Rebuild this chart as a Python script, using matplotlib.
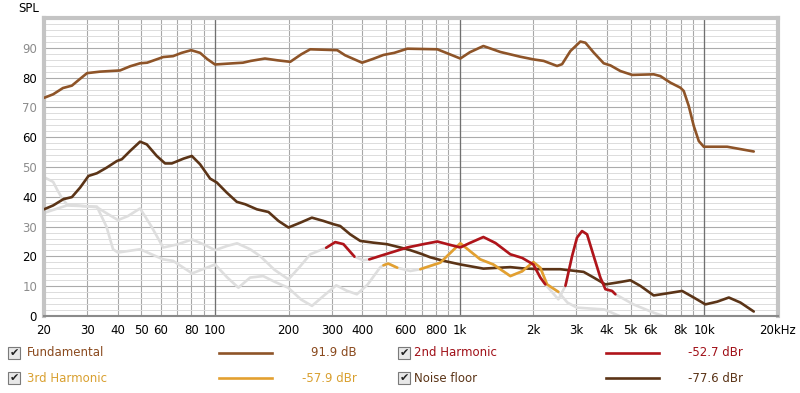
import numpy as np
import matplotlib
matplotlib.use("Agg")
import matplotlib.pyplot as plt
from matplotlib.lines import Line2D
from matplotlib.patches import Rectangle

plt.rcParams['font.family'] = ['DejaVu Sans']

# ---------------- data ----------------
fund_f = [20, 21.8, 23.9, 26, 28, 30, 33.9, 40.9, 45, 49.4, 52.8, 61.4, 67.4, 73, 79.9, 86.9,
          93, 100, 118.6, 130, 140, 160, 180, 203, 225, 245, 316, 340, 399, 440, 488, 540,
          611, 810, 900, 1006, 1100, 1250, 1466, 1770, 2005, 2204, 2501, 2621, 2834, 3114,
          3265, 3530, 3878, 4131, 4538, 5068, 6209, 6612, 7267, 7985, 8237, 8633, 9050, 9491,
          9945, 12400, 13620, 15920]
fund_db = [73.2, 74.4, 76.5, 77.3, 79.5, 81.5, 82.0, 82.4, 83.8, 84.8, 85.0, 86.9, 87.2, 88.3, 89.2, 88.3,
           86.2, 84.4, 84.8, 85.0, 85.6, 86.4, 85.8, 85.3, 87.8, 89.5, 89.2, 87.5, 85.0, 86.2, 87.6, 88.3,
           89.7, 89.5, 88.0, 86.4, 88.5, 90.6, 88.6, 87.0, 86.1, 85.6, 83.9, 84.5, 88.9, 92.1,
           91.7, 88.4, 84.8, 84.1, 82.2, 80.9, 81.1, 80.5, 78.3, 76.6, 75.5, 70.5, 63.8, 58.7,
           56.8, 56.8, 56.2, 55.2]

noise_f = [20, 21.8, 24.0, 26.0, 28.1, 30.4, 32.9, 36.1, 39.7, 41.6, 45.0, 49.4, 52.6, 57.8, 62.5,
           66.6, 74.3, 80.4, 86.9, 95.5, 101.7, 111.7, 122.8, 132.8, 148.3, 165.4, 181.7, 199.6,
           222.9, 248.8, 277.5, 305, 324.8, 356.9, 392.2, 444.6, 504.3, 571.5, 628, 700, 758, 850,
           1006, 1250, 1450, 1611, 1800, 2136, 2579, 3211, 3530, 3940, 4538, 4984, 5478, 6209,
           7046, 8114, 9050, 10100, 11280, 12590, 14050, 15920]
noise_db = [35.8, 37.1, 39.2, 39.9, 43.1, 47.0, 47.9, 49.8, 52.0, 52.6, 55.4, 58.5, 57.6, 53.7, 51.2,
            51.2, 52.8, 53.7, 50.9, 46.1, 44.8, 41.4, 38.3, 37.5, 35.8, 34.9, 31.9, 29.7,
            31.3, 33.0, 31.9, 30.8, 30.2, 27.4, 25.2, 24.6, 24.1, 23.0, 22.1, 20.8, 19.7, 18.6,
            17.3, 15.9, 16.2, 16.4, 16.0, 15.7, 15.7, 14.8, 12.9, 10.6, 11.4, 12.0, 10.1, 6.9,
            7.6, 8.4, 6.2, 3.9, 4.8, 6.2, 4.5, 1.5]

h2_f = [20.2, 21.8, 22.6, 23.7, 24.8, 28.9, 32.9, 36, 40.1, 44, 49.4, 55, 61.4, 70, 80.6, 90, 100,
        112, 123.1, 139.2, 153, 175, 199.6, 222, 245, 284.7, 310, 335, 371.6, 403.3, 426.9,
        505.7, 611, 700, 810, 900, 1006, 1100, 1250, 1400, 1611, 1800, 2000, 2136, 2239, 2531,
        2705, 2880, 3017, 3163, 3316, 3530, 3758, 3940, 4196, 4330, 5130, 6209, 6802]
h2_db = [46.4, 45.0, 42.5, 39.5, 37.5, 36.9, 36.5, 34.5, 32.2, 33.5, 36.1, 30.0, 23.0, 24.0, 25.7, 24.0, 22.1,
         23.5, 24.4, 22.4, 20.1, 15.5, 12.3, 16.5, 20.7, 22.9, 24.8, 24.1, 19.9, 18.7, 19.0,
         20.9, 23.0, 24.0, 25.0, 24.0, 23.0, 24.5, 26.5, 24.5, 20.7, 19.5, 17.3, 12.9, 10.6, 5.6,
         10.1, 20.1, 26.3, 28.5, 27.4, 20.1, 12.9, 9.0, 8.4, 7.3, 3.9, 1.1, 0.0]
h2_visible = [(284.7, 371.6), (426.9, 2239), (2705, 4330)]

h3_f = [20.2, 24.8, 32.9, 36, 38.3, 40.1, 49.4, 61.4, 67.4, 80.6, 100, 112, 124.6, 139.2, 157.3,
        175, 199, 225, 249.1, 280, 313, 345, 380, 420, 473, 488, 510.5, 555.8, 628, 690, 833, 1006,
        1214, 1372, 1611, 1800, 2000, 2136, 2276, 2531, 2757, 3017, 3900, 4500]
h3_db = [34.7, 37.1, 36.7, 30.0, 22.4, 21.3, 22.4, 19.0, 18.5, 14.3, 17.3, 13.0, 9.5, 12.9, 13.4,
         11.5, 9.5, 5.5, 3.4, 7.0, 10.3, 8.5, 7.3, 10.5, 16.3, 17.0, 17.6, 16.2, 15.1, 15.7, 17.9, 24.4,
         19.0, 17.3, 13.4, 15.0, 18.1, 16.2, 10.6, 8.1, 4.5, 2.8, 2.2, 0.0]
h3_visible = [(488, 555.8), (690, 2531)]

x_ticks = [20, 30, 40, 50, 60, 80, 100, 200, 300, 400, 600, 800, 1000, 2000, 3000, 4000,
           5000, 6000, 8000, 10000, 20000]
x_labels = ['20', '30', '40', '50', '60', '80', '100', '200', '300', '400', '600', '800', '1k',
            '2k', '3k', '4k', '5k', '6k', '8k', '10k', '20kHz']
y_ticks = [0, 10, 20, 30, 40, 50, 60, 70, 80, 90]

legend_names = ['Fundamental', '2nd Harmonic', '3rd Harmonic', 'Noise floor']
legend_values = ['91.9 dB', '-52.7 dBr', '-57.9 dBr', '-77.6 dBr']

C_FUND = '#8E5428'
C_H2 = '#B0141A'
C_H3 = '#E3A030'
C_NOISE = '#5B3417'
C_GRAY = '#DEDEDE'
legend_colors = [C_FUND, C_H2, C_H3, C_NOISE]
text_colors = ['#8A4A1E', '#A01018', '#D9A030', '#5B3417']


def masked(f, db, ranges):
    f = np.asarray(f, float)
    db = np.asarray(db, float)
    m = np.zeros_like(f, dtype=bool)
    for a, b in ranges:
        m |= (f >= a - 1e-6) & (f <= b + 1e-6)
    return np.where(m, db, np.nan)


# ---------------- figure ----------------
W, H = 800, 393
fig = plt.figure(figsize=(W / 100, H / 100), dpi=100)
fig.patch.set_facecolor('white')
ax = fig.add_axes([44 / W, 77 / H, 734 / W, 298 / H])
ax.set_xscale('log')
ax.set_xlim(20, 20000)
ax.set_ylim(0, 100)

# grid
minor_x = [m * 10 ** e for e in range(1, 5) for m in range(1, 10)]
minor_x = [v for v in minor_x if 20 <= v <= 20000]
ax.set_xticks(x_ticks)
ax.set_xticklabels(x_labels)
ax.set_xticks(minor_x, minor=True)
ax.set_yticks(y_ticks)
ax.set_yticks(np.arange(0, 101, 2), minor=True)
ax.grid(which='minor', axis='x', color='#A8A8A8', lw=0.8)
ax.grid(which='major', axis='x', color='#A8A8A8', lw=0.8)
ax.grid(which='major', axis='y', color='#ABABAB', lw=0.8)
ax.grid(which='minor', axis='y', color='#DCDCDC', lw=0.7)
for v in (100, 1000, 10000):
    ax.axvline(v, color='#707070', lw=0.9, zorder=0.9)
ax.set_axisbelow(True)
ax.tick_params(which='both', length=0)
ax.tick_params(axis='x', pad=6, labelsize=8.5)
ax.tick_params(axis='y', pad=5, labelsize=8.5)
for i, lab in enumerate(ax.get_yticklabels()):
    lab.set_color('#000000' if i % 2 == 0 else '#8C8C8C')

for s in ('top', 'left', 'right'):
    ax.spines[s].set_color('#C4C4C4')
    ax.spines[s].set_linewidth(3)
ax.spines['bottom'].set_color('#8A8A8A')
ax.spines['bottom'].set_linewidth(1.5)

# curves
lw = 1.9
kw = dict(lw=lw, solid_joinstyle='round', solid_capstyle='round')
ax.plot(h3_f, h3_db, color=C_GRAY, zorder=2, **kw)
ax.plot(h2_f, h2_db, color=C_GRAY, zorder=2, **kw)
ax.plot(noise_f, noise_db, color=C_NOISE, zorder=3, **kw)
ax.plot(h3_f, masked(h3_f, h3_db, h3_visible), color=C_H3, zorder=4, **kw)
ax.plot(h2_f, masked(h2_f, h2_db, h2_visible), color=C_H2, zorder=5, **kw)
ax.plot(fund_f, fund_db, color=C_FUND, zorder=6, **kw)

fig.text(18 / W, 1 - 8 / H, 'SPL', fontsize=8.5, va='center', ha='left')

# legend
rows_y = [353, 353, 378, 378]
box_x = [8, 398, 8, 398]
name_x = [27, 414, 27, 414]
line_x = [(219, 272), (606, 659), (219, 272), (606, 659)]
val_x = [357, 743, 357, 743]
for i in range(4):
    yc = 1 - rows_y[i] / H
    bx = box_x[i]
    fig.patches.append(Rectangle((bx / W, 1 - (rows_y[i] + 6) / H), 12 / W, 12 / H,
                                 transform=fig.transFigure, facecolor='#E8E8E8',
                                 edgecolor='#7A7A7A', lw=0.8))
    fig.text((bx + 6) / W, yc, '\u2714', fontsize=8, ha='center', va='center', color='#202020')
    fig.text(name_x[i] / W, yc, legend_names[i], fontsize=8.5, ha='left', va='center',
             color=text_colors[i])
    x0, x1 = line_x[i]
    fig.lines.append(Line2D([x0 / W, x1 / W], [yc, yc], transform=fig.transFigure,
                            color=legend_colors[i], lw=1.9))
    fig.text(val_x[i] / W, yc, legend_values[i], fontsize=8.5, ha='right', va='center',
             color=text_colors[i])

fig.savefig('out.png', dpi=100)
